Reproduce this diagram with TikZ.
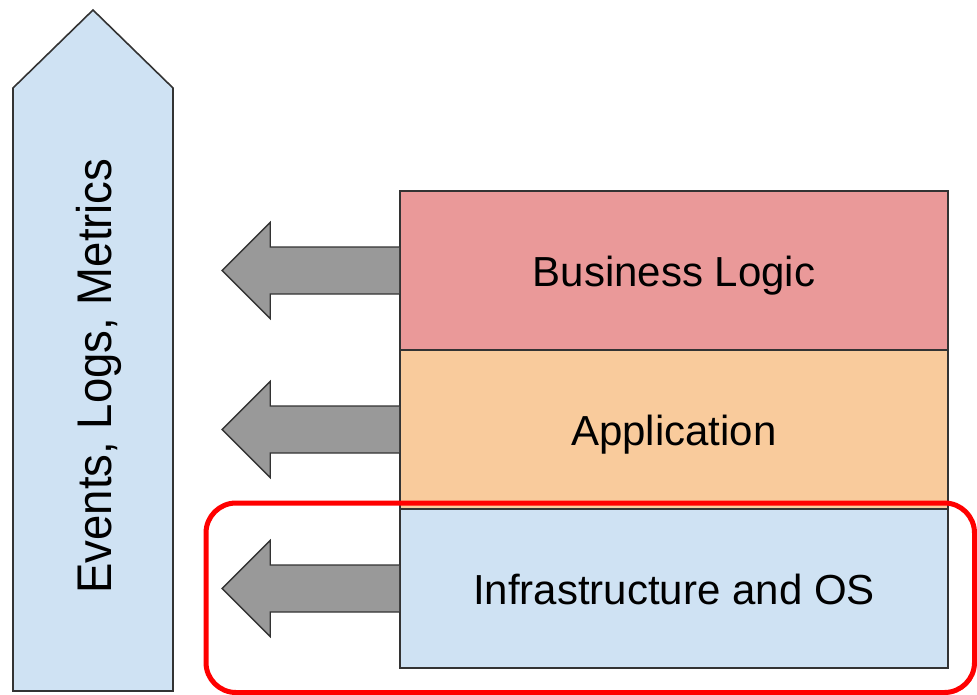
\documentclass[tikz,border=0pt]{standalone}
\usepackage{fontspec}
\setmainfont{Liberation Sans}
\definecolor{paleblue}{HTML}{CFE2F3}
\definecolor{rosefill}{HTML}{EA9999}
\definecolor{peachfill}{HTML}{F9CB9C}
\definecolor{greyfill}{HTML}{999999}
\definecolor{edge}{HTML}{333333}
\begin{document}
\begin{tikzpicture}[x=1pt,y=-1pt,
  layer/.style={draw=edge, line width=1.6pt, minimum width=548pt, minimum height=159pt,
    inner sep=0pt, text height=31pt, text depth=0pt, font=\fontsize{42}{48}\selectfont},
  feed/.style={draw=edge, line width=1.4pt, fill=greyfill, line join=miter},
  label/.style={font=\fontsize{45.5}{52}\selectfont, inner sep=0pt}]
\useasboundingbox (0,0) rectangle (977,695);

% upward collector arrow
\draw[draw=edge, line width=1.6pt, fill=paleblue, line join=miter]
  (13,691) -- (13,88) -- (93,10) -- (173,88) -- (173,691) -- cycle;
\node[label, rotate=90, anchor=base] (collect) at (111,376)
  {\scalebox{1}[1.07]{Events, Logs, Metrics}};

% stack of layers
\node[layer, fill=rosefill] (biz) at (674,270.5) {Business Logic};
\node[layer, fill=peachfill] (app) at (674,429.5) {Application};
\node[layer, fill=paleblue] (infra) at (674,588.5) {Infrastructure and OS};

% grey arrows leaving each layer
\foreach \n in {biz,app,infra}{
  \draw[feed] (\n.west) ++(0,-23.5) -- ++(-129,0) -- ++(0,-24.5) -- ++(-48,48)
    -- ++(48,48) -- ++(0,-24.5) -- ++(129,0);
}

% highlight around the infrastructure layer
\draw[red, line width=5pt, rounded corners=30pt] (206,503) rectangle (974.5,692.5);
\end{tikzpicture}
\end{document}
